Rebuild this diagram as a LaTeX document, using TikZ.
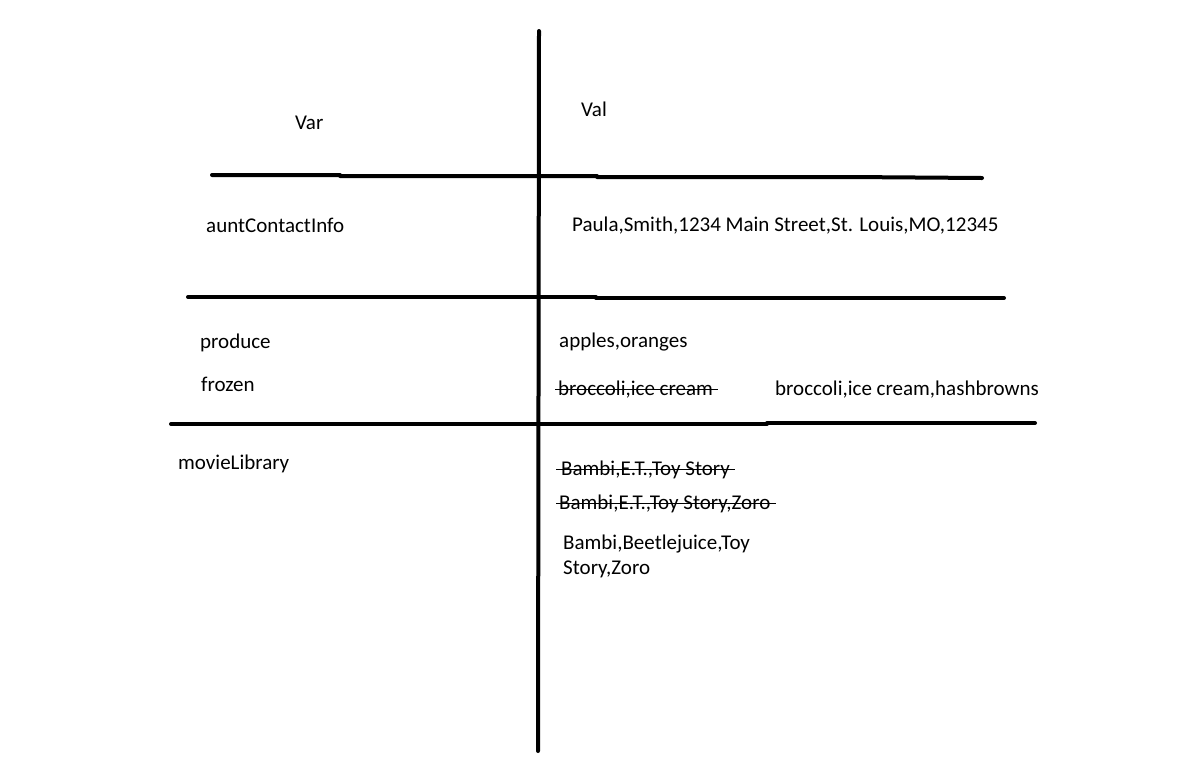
\documentclass[tikz,border=0pt]{standalone}
\usepackage{fontspec}
\setmainfont{Carlito}
\usetikzlibrary{calc}
\begin{document}
\begin{tikzpicture}[x=1pt,y=-1pt,
  rule/.style={line width=4pt,line cap=round,line join=round},
  lbl/.style={inner sep=0pt,anchor=base west,font=\fontsize{21}{25}\selectfont},
  strike/.style={line width=1.7pt}]
\useasboundingbox (0,0) rectangle (1191,780);
% grid lines
\coordinate (vt) at (539,31);
\coordinate (vb) at (538,751);
\draw[rule] (vt) -- (vb);
\coordinate (h1a) at (212,175);
\coordinate (h1b) at (982,178);
\draw[rule] (h1a) -- (340,175) -- (340,176) -- (597,176) -- (597,177) -- (850,177) -- (h1b);
\coordinate (h2a) at (188,297);
\coordinate (h2b) at (1004,298);
\draw[rule] (h2a) -- (596,297) -- (596,298) -- (h2b);
\coordinate (h3a) at (171,424);
\coordinate (h3b) at (1035,423);
\draw[rule] (h3a) -- (767,424) -- (767,423) -- (h3b);
% headers
\node[lbl] (var) at (295,129) {Var};
\node[lbl] (val) at (581,116) {Val};
% rows
\node[lbl] (aunt) at (206,232) {auntContactInfo};
\node[lbl] (auntv) at (572,231) {Paula,Smith,1234 Main Street,St. Louis,MO,12345};
\node[lbl] (prod) at (200,348) {produce};
\node[lbl] (frozen) at (201,391) {frozen};
\node[lbl] (prodv) at (559,347) {apples,oranges};
\node[lbl] (froz1) at (558,395) {broccoli,ice cream};
\node[lbl] (froz2) at (775,395) {broccoli,ice cream,hashbrowns};
\node[lbl] (movie) at (178,469) {movieLibrary};
\node[lbl] (mv1) at (561,475) {Bambi,E.T.,Toy Story};
\node[lbl] (mv2) at (559,509) {Bambi,E.T.,Toy Story,Zoro};
\node[lbl] (mv3a) at (563,549) {Bambi,Beetlejuice,Toy};
\node[lbl] (mv3b) at (563,574) {Story,Zoro};
% strike-throughs
\draw[strike] ($(froz1.base west)+(-3,-5.5)$) -- ($(froz1.base east)+(5,-5.5)$);
\draw[strike] ($(mv1.base west)+(-5,-5.5)$) -- ($(mv1.base east)+(5,-5.5)$);
\draw[strike] ($(mv2.base west)+(-3,-5.5)$) -- ($(mv2.base east)+(5,-5.5)$);
\end{tikzpicture}
\end{document}
